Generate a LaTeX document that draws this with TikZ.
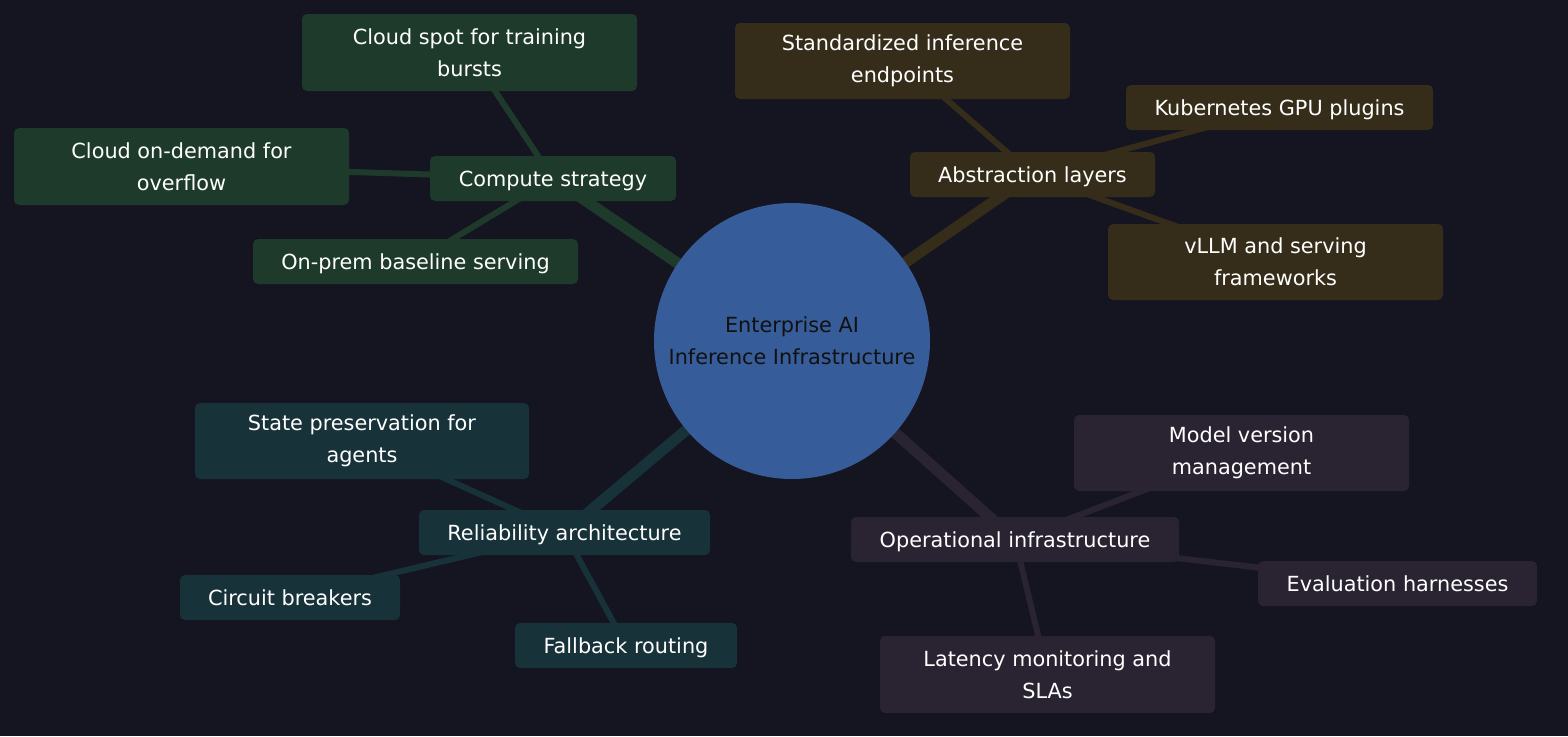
\documentclass[tikz,border=0pt]{standalone}
\usepackage{fontspec}
\setmainfont{DejaVu Sans}
\pgfdeclarelayer{bg}
\pgfdeclarelayer{edges}
\pgfsetlayers{bg,edges,main}
\definecolor{bgc}{RGB}{21,21,33}
\definecolor{hub}{RGB}{54,92,153}
\definecolor{cgreen}{RGB}{30,58,42}
\definecolor{cgold}{RGB}{53,45,25}
\definecolor{cteal}{RGB}{24,50,58}
\definecolor{cpurple}{RGB}{42,36,50}
\definecolor{hubtext}{RGB}{17,17,17}
\tikzset{
  box/.style n args={3}{rectangle, rounded corners=3.75pt, fill=#1, text=white,
    minimum width={#2*0.75pt}, minimum height={#3*0.75pt}, inner sep=0pt,
    align=center, font=\fontsize{15.6}{24}\selectfont},
  onebox/.style n args={3}{box={#1}{#2}{#3}, text height=14.5pt, text depth=3pt},
  primary/.style={line width=8.25pt, draw=#1},
  secondary/.style={line width=4.5pt, draw=#1},
}
\begin{document}
\begin{tikzpicture}[x=0.75pt,y=-0.75pt]
\begin{pgfonlayer}{bg}
\fill[bgc] (0,0) rectangle (1568,736);
\end{pgfonlayer}
\useasboundingbox (0,0) rectangle (1568,736);

\node[circle, fill=hub, minimum size=207pt, inner sep=0pt, align=center,
  text=hubtext, font=\fontsize{15.6}{24}\selectfont] (hub) at (792,341)
  {Enterprise AI\\Inference Infrastructure};

% Compute strategy
\node[onebox={cgreen}{246}{45}] (cs) at (553,178.5) {Compute strategy};
\node[box={cgreen}{335}{77}] (cspot) at (469.5,52.5) {Cloud spot for training\\bursts};
\node[box={cgreen}{335}{77}] (cod) at (181.5,166.5) {Cloud on-demand for\\overflow};
\node[onebox={cgreen}{325}{45}] (onp) at (415.5,261.5) {On-prem baseline serving};

% Abstraction layers
\node[onebox={cgold}{245}{45}] (abs) at (1032.5,174.5) {Abstraction layers};
\node[box={cgold}{335}{76}] (std) at (902.5,61) {Standardized inference\\endpoints};
\node[onebox={cgold}{307}{45}] (k8s) at (1279.5,107.5) {Kubernetes GPU plugins};
\node[box={cgold}{335}{76}] (vllm) at (1275.5,262) {vLLM and serving\\frameworks};

% Reliability architecture
\node[onebox={cteal}{291}{45}] (rel) at (564.5,532.5) {Reliability architecture};
\node[box={cteal}{334}{76}] (state) at (362,441) {State preservation for\\agents};
\node[onebox={cteal}{220}{45}] (cb) at (290,597.5) {Circuit breakers};
\node[onebox={cteal}{222}{45}] (fb) at (626,645.5) {Fallback routing};

% Operational infrastructure
\node[onebox={cpurple}{328}{45}] (ops) at (1015,539.5) {Operational infrastructure};
\node[box={cpurple}{335}{76}] (mv) at (1241.5,453) {Model version\\management};
\node[onebox={cpurple}{279}{45}] (eval) at (1397.5,583.5) {Evaluation harnesses};
\node[box={cpurple}{335}{77}] (lat) at (1047.5,674.5) {Latency monitoring and\\SLAs};

\begin{pgfonlayer}{edges}
\draw[primary=cgreen] (hub.center) -- (cs.center);
\draw[primary=cgold] (hub.center) -- (abs.center);
\draw[primary=cteal] (hub.center) -- (rel.center);
\draw[primary=cpurple] (hub.center) -- (ops.center);
\draw[secondary=cgreen] (cs.center) -- (cspot.center);
\draw[secondary=cgreen] (cs.center) -- (cod.center);
\draw[secondary=cgreen] (cs.center) -- (onp.center);
\draw[secondary=cgold] (abs.center) -- (std.center);
\draw[secondary=cgold] (abs.center) -- (k8s.center);
\draw[secondary=cgold] (abs.center) -- (vllm.center);
\draw[secondary=cteal] (rel.center) -- (state.center);
\draw[secondary=cteal] (rel.center) -- (cb.center);
\draw[secondary=cteal] (rel.center) -- (fb.center);
\draw[secondary=cpurple] (ops.center) -- (mv.center);
\draw[secondary=cpurple] (ops.center) -- (eval.center);
\draw[secondary=cpurple] (ops.center) -- (lat.center);
\end{pgfonlayer}
\end{tikzpicture}
\end{document}
